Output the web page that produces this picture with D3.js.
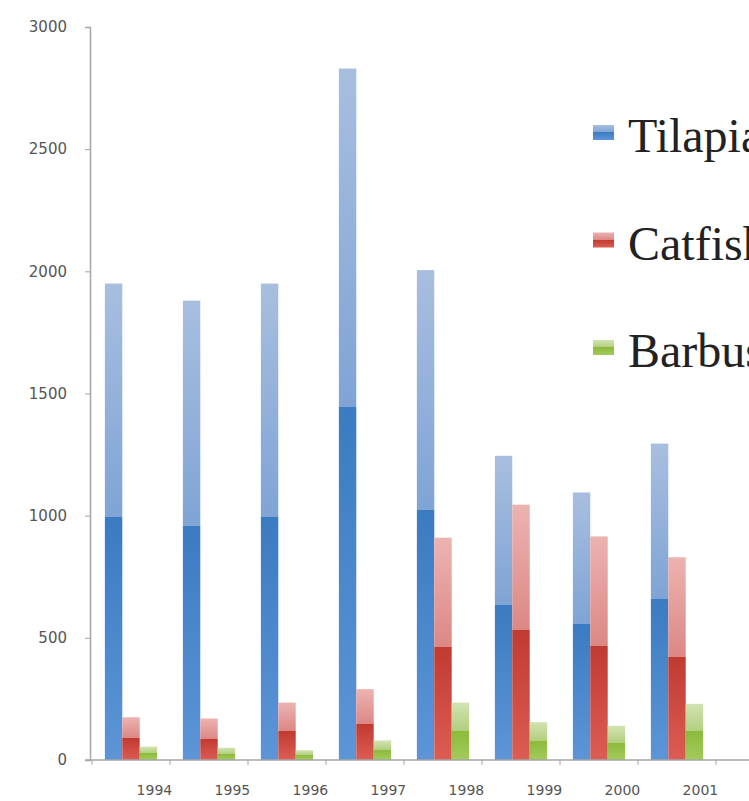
<!DOCTYPE html>
<html>
<head>
<meta charset="utf-8">
<script src="https://cdn.jsdelivr.net/npm/d3@7"></script>
<style>
    body { margin: 0; background: #fff; overflow: hidden; }
</style>
</head>
<body>
<div class="container"></div>
<script>
var years = ['1994', '1995', '1996', '1997', '1998', '1999', '2000', '2001'];
var seriesNames = ['Tilapia', 'Catfish', 'Barbus'];
var tilapia = [1950, 1880, 1950, 2830, 2005, 1245, 1095, 1295];
var catfish = [175, 170, 235, 290, 910, 1045, 915, 830];
var barbus = [55, 50, 40, 80, 235, 155, 140, 230];
var yTicks = [0, 500, 1000, 1500, 2000, 2500, 3000];

var _WIDTH = 749;
var _HEIGHT = 801;
var _svg;

// light top -> light mid, dark mid -> dark bottom
var _colors = {
    Tilapia: ['#a8bedf', '#7fa4d5', '#3b7bc1', '#5d95d7'],
    Catfish: ['#ecb3b1', '#dc8885', '#c13a30', '#dc5d54'],
    Barbus: ['#d2e3b2', '#b2cf7e', '#8cba3b', '#a3cb5d']
};

var translate = function (x, y) {
    return 'translate(' + x + ',' + y + ')';
};

var drawChart = function () {
    var table = years.map(function (y, i) {
        return {year: y, values: [
            {name: 'Tilapia', value: tilapia[i]},
            {name: 'Catfish', value: catfish[i]},
            {name: 'Barbus', value: barbus[i]}
        ]};
    });

    var x0 = d3.scaleBand().domain(years).range([92, 716]);
    var bw = x0.bandwidth();
    var x1 = d3.scaleBand().domain(seriesNames).range([bw * 0.165, bw * 0.835]);
    var y = d3.scaleLinear().domain([0, 3000]).range([760, 27]);

    _svg = d3.select('.container').append('svg')
        .attr('width', _WIDTH)
        .attr('height', _HEIGHT)
        .style('display', 'block');

    var defs = _svg.append('defs');
    seriesNames.forEach(function (name) {
        var c = _colors[name];
        var g = defs.append('linearGradient')
            .attr('id', 'grad-' + name)
            .attr('x1', 0).attr('y1', 0).attr('x2', 0).attr('y2', 1);
        [[0, c[0]], [0.49, c[1]], [0.49, c[2]], [1, c[3]]].forEach(function (s) {
            g.append('stop').attr('offset', s[0]).attr('stop-color', s[1]);
        });
    });

    // y axis
    var yAxis = d3.axisLeft(y).tickValues(yTicks).tickFormat(d3.format('d'))
        .tickSize(5).tickPadding(18);
    var yg = _svg.append('g')
        .attr('transform', translate(90, 0))
        .call(yAxis);
    yg.select('.domain').attr('stroke', '#a6a6a6').attr('stroke-width', 1.5);
    yg.selectAll('.tick line').attr('stroke', '#a6a6a6');
    yg.selectAll('.tick text')
        .style('font-family', 'DejaVu Sans, sans-serif')
        .style('font-size', '15px')
        .style('fill', '#555');

    // bars
    var groups = _svg.append('g').selectAll('g')
        .data(table)
        .enter().append('g')
        .attr('transform', function (d) { return translate(x0(d.year), 0); });

    groups.selectAll('rect')
        .data(function (d) { return d.values; })
        .enter().append('rect')
        .attr('x', function (d) { return x1(d.name); })
        .attr('y', function (d) { return y(d.value); })
        .attr('width', x1.bandwidth())
        .attr('height', function (d) { return y(0) - y(d.value); })
        .attr('fill', function (d) { return 'url(#grad-' + d.name + ')'; });

    // x axis
    var xg = _svg.append('g').attr('transform', translate(0, 760));
    xg.append('line')
        .attr('x1', 85).attr('x2', _WIDTH)
        .attr('stroke', '#a6a6a6').attr('stroke-width', 1.5);
    xg.selectAll('.xtick')
        .data(years.concat(['end']))
        .enter().append('line')
        .attr('class', 'xtick')
        .attr('x1', function (d, i) { return i < years.length ? x0(d) : x0.range()[1]; })
        .attr('x2', function (d, i) { return i < years.length ? x0(d) : x0.range()[1]; })
        .attr('y1', 0).attr('y2', 5)
        .attr('stroke', '#a6a6a6');
    xg.selectAll('.xlabel')
        .data(years)
        .enter().append('text')
        .attr('class', 'xlabel')
        .attr('x', function (d) { return x0(d) + bw * 0.8; })
        .attr('y', 35)
        .attr('text-anchor', 'middle')
        .style('font-family', 'DejaVu Sans, sans-serif')
        .style('font-size', '14px')
        .style('fill', '#555')
        .text(function (d) { return d; });

    // legend (runs off the right edge, as in the original)
    var legend = _svg.append('g').selectAll('g')
        .data(seriesNames)
        .enter().append('g')
        .attr('transform', function (d, i) { return translate(593, 152 + i * 107.5); });
    legend.append('rect')
        .attr('x', 0).attr('y', -27)
        .attr('width', 21).attr('height', 15)
        .attr('fill', function (d) { return 'url(#grad-' + d + ')'; });
    legend.append('text')
        .attr('x', 35).attr('y', 0)
        .style('font-family', 'Liberation Serif, serif')
        .style('font-size', '48px')
        .style('fill', '#222')
        .text(function (d) { return d; });
};

window.onload = drawChart;
</script>
</body>
</html>
